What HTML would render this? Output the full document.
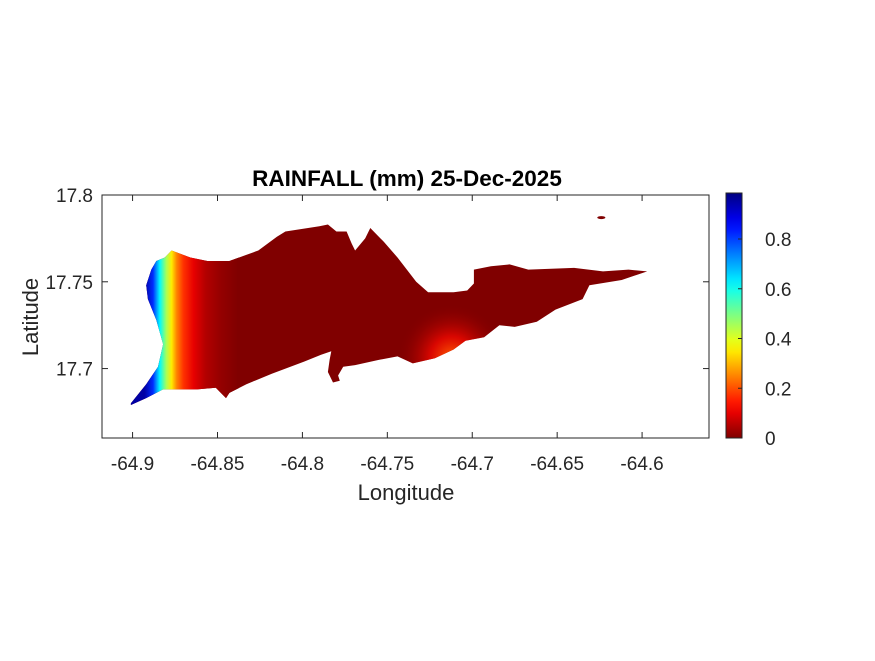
<!DOCTYPE html>
<html><head><meta charset="utf-8"><style>
body{margin:0;background:#fff;}
svg text{font-family:"Liberation Sans",sans-serif;fill:#262626;}
</style></head><body>
<svg id="chart" width="875" height="656" viewBox="0 0 875 656" xmlns="http://www.w3.org/2000/svg">
<defs>
<clipPath id="islandClip"><path id="clipPath"/></clipPath>
<linearGradient id="rainGrad" gradientUnits="userSpaceOnUse" y1="0" y2="0"></linearGradient>
<radialGradient id="hotGrad" gradientUnits="userSpaceOnUse"></radialGradient>
<linearGradient id="cbGrad" x1="0" y1="1" x2="0" y2="0"></linearGradient>
</defs>
<rect x="0" y="0" width="875" height="656" fill="#fff"/>
<g id="plotArea"></g>
<rect x="102" y="195" width="607" height="243" fill="none" stroke="#262626" stroke-width="1"/>
<g id="xticks"></g>
<g id="yticks"></g>
<text x="407" y="186" text-anchor="middle" font-size="22.5" font-weight="bold" style="fill:#000">RAINFALL (mm) 25-Dec-2025</text>
<text x="406" y="500" text-anchor="middle" font-size="22">Longitude</text>
<text transform="translate(38,317) rotate(-90)" text-anchor="middle" font-size="22">Latitude</text>
<g id="colorbar"></g>
</svg>
<script>
const xTicks=[-64.9,-64.85,-64.8,-64.75,-64.7,-64.65,-64.6];
const yTicks=[17.7,17.75,17.8];
const cbTicks=[0,0.2,0.4,0.6,0.8];
const coastLon=[-64.877,-64.866,-64.856,-64.843,-64.826,-64.815,-64.810,-64.790,-64.785,-64.780,-64.774,-64.771,-64.769,-64.763,-64.760,-64.752,-64.744,-64.733,-64.726,-64.711,-64.703,-64.699,-64.699,-64.689,-64.678,-64.667,-64.640,-64.623,-64.608,-64.597,-64.600,-64.612,-64.631,-64.635,-64.651,-64.662,-64.675,-64.684,-64.693,-64.704,-64.711,-64.722,-64.735,-64.744,-64.755,-64.769,-64.776,-64.779,-64.778,-64.782,-64.785,-64.784,-64.783,-64.789,-64.799,-64.818,-64.833,-64.843,-64.845,-64.851,-64.862,-64.882,-64.892,-64.901,-64.901,-64.892,-64.885,-64.882,-64.886,-64.891,-64.892,-64.889,-64.886,-64.881];
const coastLat=[17.768,17.764,17.762,17.762,17.768,17.776,17.779,17.782,17.783,17.779,17.779,17.772,17.768,17.775,17.781,17.773,17.764,17.750,17.744,17.744,17.745,17.749,17.757,17.759,17.760,17.757,17.758,17.756,17.757,17.756,17.755,17.751,17.748,17.740,17.734,17.727,17.724,17.725,17.718,17.716,17.711,17.706,17.703,17.707,17.705,17.702,17.701,17.696,17.693,17.692,17.698,17.705,17.710,17.708,17.704,17.697,17.691,17.686,17.683,17.689,17.688,17.688,17.683,17.679,17.680,17.691,17.701,17.714,17.728,17.740,17.748,17.757,17.762,17.764];
const profileLon=[-64.893,-64.888,-64.884,-64.880,-64.877,-64.874,-64.870,-64.864,-64.857,-64.848,-64.838];
const profileVal=[0.95,0.82,0.62,0.45,0.35,0.25,0.17,0.10,0.05,0.02,0];
const hotLon=[-64.712], hotLat=[17.706], hotVal=[0.22], hotRadius=[0.032];
const islet={lon:-64.624,lat:17.787};
const cbMax=0.985;

const X0=102,X1=709,Y0=195,Y1=438;
const lonMin=-64.918,lonMax=-64.5606,latMin=17.660,latMax=17.8;
const xs=v=>X0+(v-lonMin)/(lonMax-lonMin)*(X1-X0);
const ys=v=>Y1-(v-latMin)/(latMax-latMin)*(Y1-Y0);
const NS="http://www.w3.org/2000/svg";
function mk(t,a,p){const e=document.createElementNS(NS,t);for(const k in a)e.setAttribute(k,a[k]);p.appendChild(e);return e;}
function jet(v){v=1-Math.max(0,Math.min(1,v/cbMax));
 const f=x=>Math.max(0,Math.min(1,x));
 const r=f(Math.min(4*v-1.5,-4*v+4.5)),g=f(Math.min(4*v-0.5,-4*v+3.5)),b=f(Math.min(4*v+0.5,-4*v+2.5));
 return `rgb(${Math.round(r*255)},${Math.round(g*255)},${Math.round(b*255)})`;}

let d=coastLon.map((lo,i)=>(i?'L':'M')+xs(lo).toFixed(1)+','+ys(coastLat[i]).toFixed(1)).join('')+'Z';
document.getElementById('clipPath').setAttribute('d',d);
const rg=document.getElementById('rainGrad');
const x1=xs(profileLon[0]),x2=xs(profileLon[profileLon.length-1]);
rg.setAttribute('x1',x1);rg.setAttribute('x2',x2);
profileLon.forEach((lo,i)=>mk('stop',{offset:((xs(lo)-x1)/(x2-x1)).toFixed(3),'stop-color':jet(profileVal[i])},rg));
const hg=document.getElementById('hotGrad');
hg.setAttribute('cx',xs(hotLon[0]));hg.setAttribute('cy',ys(hotLat[0]));hg.setAttribute('r',xs(hotLon[0]+hotRadius[0])-xs(hotLon[0]));
mk('stop',{offset:0,'stop-color':jet(hotVal[0]),'stop-opacity':1},hg);
mk('stop',{offset:0.4,'stop-color':jet(hotVal[0]*0.6),'stop-opacity':0.7},hg);
mk('stop',{offset:1,'stop-color':jet(0),'stop-opacity':0},hg);

const pa=document.getElementById('plotArea');
const g=mk('g',{'clip-path':'url(#islandClip)'},pa);


const base=mk('rect',{x:X0,y:Y0,width:X1-X0,height:Y1-Y0,fill:jet(0)},g);


const grad=mk('rect',{x:X0,y:Y0,width:x2-X0+1,height:Y1-Y0,fill:'url(#rainGrad)'},g);


const hot=mk('ellipse',{cx:xs(hotLon[0]),cy:ys(hotLat[0]),rx:80,ry:80,fill:'url(#hotGrad)'},g);


const isl=mk('ellipse',{cx:xs(islet.lon),cy:ys(islet.lat),rx:4,ry:1.5,fill:jet(0)},pa);



const xt=document.getElementById('xticks');
xTicks.forEach(t=>{const x=xs(t);
 mk('line',{x1:x,x2:x,y1:Y1,y2:Y1-6,stroke:'#262626'},xt);mk('line',{x1:x,x2:x,y1:Y0,y2:Y0+6,stroke:'#262626'},xt);
 const tx=mk('text',{x:x,y:Y1+32,'text-anchor':'middle','font-size':19},xt);tx.textContent=String(t);
 
 });
const yt=document.getElementById('yticks');
yTicks.forEach(t=>{const y=ys(t);
 mk('line',{x1:X0,x2:X0+6,y1:y,y2:y,stroke:'#262626'},yt);mk('line',{x1:X1,x2:X1-6,y1:y,y2:y,stroke:'#262626'},yt);
 const tx=mk('text',{x:X0-9,y:y+7,'text-anchor':'end','font-size':19},yt);tx.textContent=String(t);
 
 });

const cg=document.getElementById('cbGrad');
for(let i=0;i<=20;i++){const v=cbMax*i/20;mk('stop',{offset:i/20,'stop-color':jet(v)},cg);}
const cb=document.getElementById('colorbar');
const CX=726,CW=16,CY0=193,CY1=438;
const cy=v=>CY1-v/cbMax*(CY1-CY0);
const cr=mk('rect',{x:CX,y:CY0,width:CW,height:CY1-CY0,fill:'url(#cbGrad)',stroke:'#262626','stroke-width':1},cb);


cbTicks.forEach(t=>{const y=cy(t);
 mk('line',{x1:CX+CW-4,x2:CX+CW,y1:y,y2:y,stroke:'#262626'},cb);
 const tx=mk('text',{x:CX+CW+23,y:y+7,'text-anchor':'start','font-size':19},cb);tx.textContent=String(t);
 
 });
</script>
</body></html>
